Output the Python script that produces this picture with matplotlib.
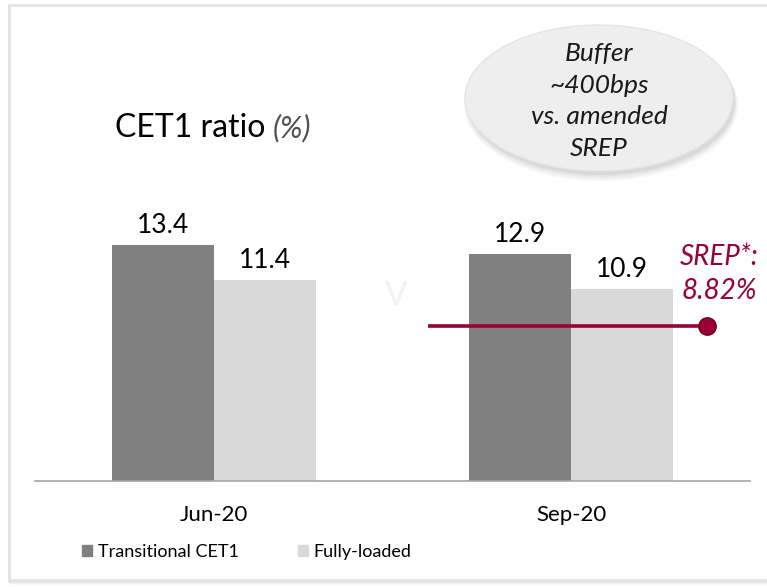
import matplotlib.pyplot as plt
import numpy as np
from matplotlib.patches import Ellipse, Rectangle

plt.rcParams["font.family"] = ["Lato", "DejaVu Sans"]

# data
periods = ["Jun-20", "Sep-20"]
transitional = [13.4, 12.9]
fully_loaded = [11.4, 10.9]
srep = 8.82
series_names = ["Transitional CET1", "Fully-loaded"]

W, H = 767, 587
fig = plt.figure(figsize=(W / 100, H / 100), dpi=100)

# frame around the slide box, with a soft shadow at the bottom
for i, a in enumerate([0.10, 0.07, 0.04]):
    fig.add_artist(Rectangle((9 / W, (H - 580 - 1 - i) / H), 1.0, 575 / H,
                             transform=fig.transFigure, fill=False,
                             edgecolor="#808080", alpha=a, lw=2, zorder=-2))
fig.add_artist(Rectangle((9 / W, (H - 580) / H), 1.0, 575 / H,
                         transform=fig.transFigure, facecolor="white",
                         edgecolor="#E3E3E3", lw=2, zorder=-1))

ax = fig.add_axes([35 / W, (H - 481) / H, 715 / W, 440 / H])
x = np.arange(len(periods))
bw = 0.286
b1 = ax.bar(x - bw / 2, transitional, bw, color="#808080", zorder=2)
b2 = ax.bar(x + bw / 2, fully_loaded, bw, color="#D9D9D9", zorder=2)

for bars, vals in [(b1, transitional), (b2, fully_loaded)]:
    for r, v in zip(bars, vals):
        ax.annotate(f"{v:.1f}", (r.get_x() + r.get_width() / 2, v),
                    xytext=(0, 5), textcoords="offset points",
                    ha="center", va="bottom", fontsize=19, color="black")

ax.set_xlim(-0.5, 1.5)
ax.set_ylim(0, 25)
ax.set_xticks(x)
ax.set_xticklabels(periods, fontsize=16)
ax.tick_params(axis="x", length=0, pad=17)
ax.set_yticks([])
for s in ["top", "right", "left"]:
    ax.spines[s].set_visible(False)
ax.spines["bottom"].set_color("#A6A6A6")
ax.spines["bottom"].set_linewidth(1.2)
ax.patch.set_alpha(0)

# SREP requirement line
srep_col = "#990033"
ax.plot([0.60, 1.379], [srep, srep], color=srep_col, lw=2.6, zorder=3,
        solid_capstyle="butt")
ax.plot([1.379], [srep], "o", color=srep_col, ms=12.5, mec="#6E0024",
        mew=1, zorder=4)
ax.text(1.413, srep + 2.95, "SREP*:\n8.82%", ha="center", va="center",
        fontsize=20, style="italic", color=srep_col, linespacing=1.39)

# faint watermark glyph
ax.text(0.51, 10.5, "V", ha="center", va="center", fontsize=24,
        color="#F2F2F2", zorder=1)

# title
t = fig.text(115 / W, 1 - 128 / H, "CET1 ratio", fontsize=23, va="center",
             ha="left", color="black")
ax.annotate("(%)", xy=(1, 0.5), xycoords=t, xytext=(5, 0),
            textcoords="offset points", fontsize=22, va="center", ha="left",
            style="italic", color="#505050", annotation_clip=False)

# bubble with shadow
cx, cy, ew, eh = 599, 98, 268, 146
for i, a in enumerate([0.05, 0.06, 0.08, 0.10]):
    fig.add_artist(Ellipse(((cx + 2) / W, 1 - (cy + 7 - i) / H), (ew + 6 - 2 * i) / W,
                           (eh + 6 - 2 * i) / H, transform=fig.transFigure,
                           facecolor="#707070", edgecolor="none", alpha=a))
fig.add_artist(Ellipse((cx / W, 1 - cy / H), ew / W, eh / H,
                       transform=fig.transFigure, facecolor="#EEEEEE",
                       edgecolor="#E4E4E4", lw=1))
fig.text(cx / W, 1 - 101 / H, "Buffer\n~400bps\nvs. amended\nSREP",
         ha="center", va="center", fontsize=19, style="italic",
         color="#1A1A1A", linespacing=1.46)

# legend
handles = [Rectangle((0, 0), 1, 1, color="#808080"),
           Rectangle((0, 0), 1, 1, color="#D9D9D9")]
fig.legend(handles, series_names, loc="center left",
           bbox_to_anchor=(66 / W, 1 - 552 / H), ncol=2, frameon=False,
           fontsize=13, handlelength=0.55, handleheight=0.55,
           handletextpad=0.3, columnspacing=3.3)

fig.savefig("out.png", dpi=100)
